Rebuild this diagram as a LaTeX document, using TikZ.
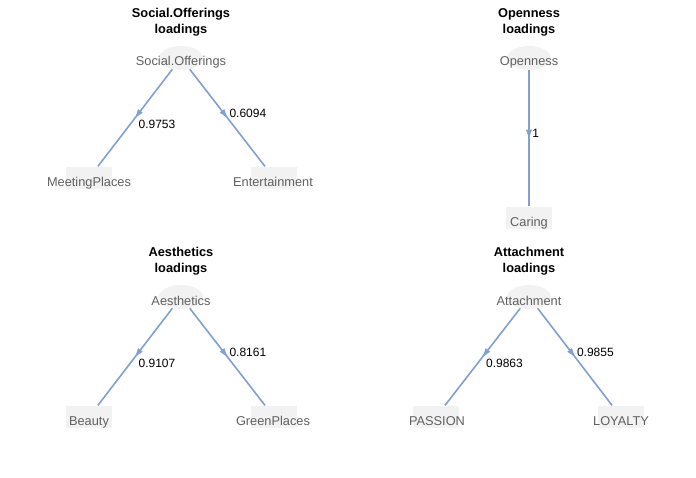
\documentclass[tikz,border=0pt]{standalone}
\usepackage{fontspec}
\setmainfont{Liberation Sans}
\usetikzlibrary{arrows.meta, decorations.markings, shapes.geometric, positioning}
\definecolor{edgeblue}{RGB}{128,160,208}
\definecolor{boxgray}{RGB}{242,242,242}
\definecolor{txtgray}{RGB}{96,96,96}
\begin{document}
\begin{tikzpicture}[x=0.75pt, y=-0.75pt,
    every node/.style = {font=\fontsize{9}{10}\selectfont},
    latent/.style = {ellipse, fill=boxgray, minimum width=33pt, minimum height=18pt, inner sep=0pt},
    manifest/.style = {rectangle, fill=boxgray, minimum width=34pt, minimum height=17pt, inner sep=0pt},
    vname/.style = {text=txtgray, inner sep=0pt, anchor=base, font=\fontsize{9.6}{10}\selectfont},
    title/.style = {font=\bfseries\fontsize{9.6}{12}\selectfont, align=center},
    loading/.style = {draw=edgeblue, line width=1.2pt,
        decoration={markings, mark=at position 0.5 with {\arrow[edgeblue]{Triangle[width=4pt, length=6.5pt]}}},
        postaction={decorate}},
    lval/.style = {text=black, inner sep=1pt}]
    \useasboundingbox (0,0) rectangle (696,478);

    % Social.Offerings
    \node[title] (T1) at (181,22) {Social.Offerings\\loadings};
    \node[latent] (SO) at (181,58) {};
    \node[manifest] (MP) at (89,178) {};
    \node[manifest] (EN) at (274,178) {};
    \draw[loading] (SO) -- (MP) node[lval, pos=0.5, anchor=north west, xshift=1pt] {0.9753};
    \draw[loading] (SO) -- (EN) node[lval, pos=0.5, anchor=west, yshift=3pt] {0.6094};
    \node[vname] (LSO) at (181,66) {Social.Offerings};
    \node[vname] (LMP) at (89,186) {MeetingPlaces};
    \node[vname] (LEN) at (273,186) {Entertainment};

    % Openness
    \node[title] (T2) at (529,22) {Openness\\loadings};
    \node[latent] (OP) at (529,58) {};
    \node[manifest] (CA) at (529,218) {};
    \draw[loading] (OP) -- (CA) node[lval, pos=0.5, anchor=west, xshift=1pt, yshift=3.5pt] {1};
    \node[vname] (LOP) at (529,66) {Openness};
    \node[vname] (LCA) at (529,226) {Caring};

    % Aesthetics
    \node[title] (T3) at (181,261) {Aesthetics\\loadings};
    \node[latent] (AE) at (181,297) {};
    \node[manifest] (BE) at (89,417) {};
    \node[manifest] (GP) at (274,417) {};
    \draw[loading] (AE) -- (BE) node[lval, pos=0.5, anchor=north west, xshift=1pt] {0.9107};
    \draw[loading] (AE) -- (GP) node[lval, pos=0.5, anchor=west, yshift=3pt] {0.8161};
    \node[vname] (LAE) at (181,305) {Aesthetics};
    \node[vname] (LBE) at (89,425) {Beauty};
    \node[vname] (LGP) at (273,425) {GreenPlaces};

    % Attachment
    \node[title] (T4) at (529,261) {Attachment\\loadings};
    \node[latent] (AT) at (529,297) {};
    \node[manifest] (PA) at (436,417) {};
    \node[manifest] (LO) at (621,417) {};
    \draw[loading] (AT) -- (PA) node[lval, pos=0.5, anchor=north west, xshift=1pt] {0.9863};
    \draw[loading] (AT) -- (LO) node[lval, pos=0.5, anchor=west, yshift=3pt] {0.9855};
    \node[vname] (LAT) at (529,305) {Attachment};
    \node[vname] (LPA) at (437,425) {PASSION};
    \node[vname] (LLO) at (621,425) {LOYALTY};
\end{tikzpicture}
\end{document}
